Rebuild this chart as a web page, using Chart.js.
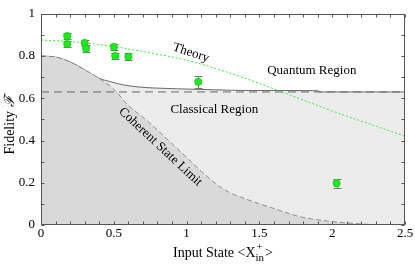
<!DOCTYPE html>
<html><head><meta charset="utf-8">
<script src="https://cdn.jsdelivr.net/npm/chart.js@4.4.0/dist/chart.umd.min.js"></script>
<style>html,body{margin:0;padding:0;background:#fff}#wrap{width:415px;height:265px}</style>
</head><body><div id="wrap"><canvas id="c" width="415" height="265"></canvas></div>
<script>
// ---- data ----
const measuredX   = [0.18, 0.18, 0.30, 0.31, 0.50, 0.51, 0.60, 1.08, 2.03];
const measuredF   = [0.895, 0.857, 0.862, 0.835, 0.843, 0.800, 0.797, 0.678, 0.198];
const measuredErr = [0.016, 0.016, 0.016, 0.016, 0.016, 0.016, 0.016, 0.028, 0.022];

const theoryX = [0, 0.25, 0.5, 0.75, 1.0, 1.25, 1.5, 1.75, 2.0, 2.25, 2.5];
const theoryF = [0.876, 0.866, 0.845, 0.815, 0.78, 0.73, 0.67, 0.605, 0.54, 0.48, 0.42];

const coherentX = [0, 0.1, 0.2, 0.3, 0.4, 0.5, 0.6, 0.7, 0.8, 0.9, 1.0, 1.1, 1.2, 1.3, 1.4, 1.5, 1.6, 1.7, 1.8, 1.9, 2.0, 2.1, 2.2, 2.3, 2.5];
const coherentF = [0.80, 0.795, 0.772, 0.735, 0.694, 0.643, 0.566, 0.51, 0.45, 0.385, 0.32, 0.255, 0.196, 0.152, 0.125, 0.1, 0.078, 0.055, 0.036, 0.025, 0.016, 0.01, 0.005, 0.002, 0];

const classicalX = [0, 0.1, 0.2, 0.3, 0.4, 0.47, 0.56, 0.68, 0.8, 0.93, 1.2, 1.43, 1.9, 1.92, 2.5];
const classicalF = [0.80, 0.795, 0.772, 0.735, 0.694, 0.68, 0.664, 0.653, 0.648, 0.645, 0.64, 0.637, 0.636, 0.63, 0.63];

const classicalLimitX = [0, 2.5];
const classicalLimitF = [0.63, 0.63];

const xTicks = [0, 0.5, 1, 1.5, 2, 2.5];
const yTicks = [0, 0.2, 0.4, 0.6, 0.8, 1];
const xMinorStep = 0.1, yMinorStep = 0.1;

const labels = [
  {text: 'Theory', x: 1.03, y: 0.815, rot: 18},
  {text: 'Quantum Region', x: 1.86, y: 0.73, rot: 0},
  {text: 'Classical Region', x: 1.19, y: 0.546, rot: 0},
  {text: 'Coherent State Limit', x: 0.82, y: 0.37, rot: 43}
];

const pts = (xs, ys) => xs.map((x, i) => ({x: x, y: ys[i]}));
const SERIF = '"Liberation Serif", "DejaVu Serif", serif';

const framePlugin = {
  id: 'frame',
  beforeDatasetDraw(chart, args) {
    if (args.index !== 0) return;
    const {ctx, scales: {x, y}} = chart;
    ctx.save();
    ctx.strokeStyle = '#777';
    ctx.lineWidth = 1;
    measuredX.forEach((mx, i) => {
      const px = Math.round(x.getPixelForValue(mx)) + 0.5;
      const top = Math.round(y.getPixelForValue(measuredF[i] + measuredErr[i])) + 0.5;
      const bot = Math.round(y.getPixelForValue(measuredF[i] - measuredErr[i])) + 0.5;
      ctx.beginPath();
      ctx.moveTo(px, top); ctx.lineTo(px, bot);
      ctx.moveTo(px - 4, top); ctx.lineTo(px + 4, top);
      ctx.moveTo(px - 4, bot); ctx.lineTo(px + 4, bot);
      ctx.stroke();
    });
    ctx.restore();
  },
  afterDraw(chart) {
    const {ctx, chartArea: a, scales: {x, y}} = chart;
    ctx.save();
    ctx.strokeStyle = '#555';
    ctx.lineWidth = 1;
    const L = Math.round(a.left) + 0.5, R = Math.round(a.right) - 0.5;
    const T = Math.round(a.top) + 0.5, B = Math.round(a.bottom) - 0.5;
    ctx.strokeRect(L, T, R - L, B - T);
    ctx.beginPath();
    for (let v = 0; v <= 2.5 + 1e-9; v += xMinorStep) {
      const px = Math.round(x.getPixelForValue(v)) + 0.5;
      ctx.moveTo(px, B); ctx.lineTo(px, B - 3);
      ctx.moveTo(px, T); ctx.lineTo(px, T + 3);
    }
    for (let v = 0; v <= 1 + 1e-9; v += yMinorStep) {
      const py = Math.round(y.getPixelForValue(v)) + 0.5;
      ctx.moveTo(L, py); ctx.lineTo(L + 3, py);
      ctx.moveTo(R, py); ctx.lineTo(R - 3, py);
    }
    ctx.stroke();

    // annotations
    ctx.fillStyle = '#000';
    ctx.font = '13px ' + SERIF;
    ctx.textAlign = 'center';
    ctx.textBaseline = 'middle';
    labels.forEach(l => {
      ctx.save();
      ctx.translate(x.getPixelForValue(l.x), y.getPixelForValue(l.y));
      ctx.rotate(l.rot * Math.PI / 180);
      ctx.fillText(l.text, 0, 0);
      ctx.restore();
    });

    // x axis title: Input State <X_in^+>
    const cx = (a.left + a.right) / 2;
    const base = 257;
    const f1 = '14px ' + SERIF, f2 = '11px ' + SERIF;
    ctx.textBaseline = 'alphabetic';
    ctx.textAlign = 'left';
    ctx.font = f1; const w1 = ctx.measureText('Input State <X').width;
    ctx.font = f2; const wSub = ctx.measureText('in').width;
    ctx.font = f1; const w3 = ctx.measureText('>').width;
    const total = w1 + wSub + 1 + w3;
    let sx = cx - total / 2;
    ctx.font = f1; ctx.fillText('Input State <X', sx, base); sx += w1;
    ctx.font = f2; ctx.fillText('in', sx, base + 4); ctx.fillText('+', sx + 1, base - 7); sx += wSub + 1;
    ctx.font = f1; ctx.fillText('>', sx, base);

    // y axis title
    ctx.save();
    ctx.translate(10, 125);
    ctx.rotate(-Math.PI / 2);
    ctx.textAlign = 'left';
    ctx.textBaseline = 'middle';
    ctx.font = f1; const wa = ctx.measureText('Fidelity ').width;
    ctx.font = 'italic 14px ' + SERIF; const wb = ctx.measureText('ℱ').width;
    let tx = -(wa + wb) / 2;
    ctx.font = f1; ctx.fillText('Fidelity ', tx, 0);
    ctx.font = 'italic 14px ' + SERIF; ctx.fillText('ℱ', tx + wa, 0);
    ctx.restore();
    ctx.restore();
  }
};

new Chart(document.getElementById('c'), {
  type: 'line',
  data: {
    datasets: [
      {
        label: 'Measured', data: pts(measuredX, measuredF), order: 0,
        showLine: false, pointRadius: 3.6, pointBackgroundColor: 'rgb(30,235,30)',
        pointBorderColor: 'rgb(20,200,20)', pointBorderWidth: 0.8
      },
      {
        label: 'Theory', data: pts(theoryX, theoryF), order: 1, tension: 0.4, cubicInterpolationMode: 'monotone',
        borderColor: 'rgb(60,235,60)', borderWidth: 1, borderDash: [2, 2], pointRadius: 0, fill: false
      },
      {
        label: 'Classical limit', data: pts(classicalLimitX, classicalLimitF), order: 2,
        borderColor: '#666', borderWidth: 1, borderDash: [8, 5], pointRadius: 0, fill: false
      },
      {
        label: 'Coherent State Limit', data: pts(coherentX, coherentF), order: 3, cubicInterpolationMode: 'monotone',
        borderColor: '#7a7a7a', borderWidth: 0.8, borderDash: [5, 3], pointRadius: 0,
        fill: 'origin', backgroundColor: '#d9d9d9'
      },
      {
        label: 'Classical Region', data: pts(classicalX, classicalF), order: 4, cubicInterpolationMode: 'monotone',
        borderColor: '#6a6a6a', borderWidth: 1, pointRadius: 0,
        fill: 'origin', backgroundColor: '#ececec'
      }
    ]
  },
  options: {
    responsive: false, animation: false, devicePixelRatio: 1,
    layout: {padding: {top: 9, right: 10, left: 0, bottom: 0}},
    plugins: {legend: {display: false}, tooltip: {enabled: false}},
    scales: {
      x: {
        type: 'linear', min: 0, max: 2.5,
        afterFit(s) { s.height = 40; },
        afterBuildTicks(s) { s.ticks = xTicks.map(v => ({value: v})); },
        ticks: {font: {family: SERIF, size: 13}, color: '#000', padding: 1, maxRotation: 0, callback: v => String(v)},
        grid: {display: false, drawTicks: false}, border: {display: false}
      },
      y: {
        type: 'linear', min: 0, max: 1,
        afterFit(s) { s.width = 41; },
        afterBuildTicks(s) { s.ticks = yTicks.map(v => ({value: v})); },
        ticks: {font: {family: SERIF, size: 13}, color: '#000', padding: 6, callback: v => String(v)},
        grid: {display: false, drawTicks: false}, border: {display: false}
      }
    }
  },
  plugins: [framePlugin]
});
</script></body></html>
